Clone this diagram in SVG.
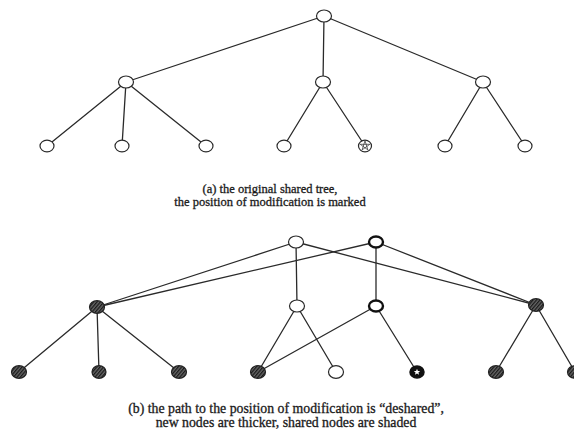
<svg xmlns="http://www.w3.org/2000/svg" width="574" height="431" viewBox="0 0 574 431">
<style>
.e{stroke:#2a2a2a;stroke-width:1.3;fill:none;stroke-linecap:round}
.n{fill:#fff;stroke:#2a2a2a;stroke-width:1.2}
.new{fill:#fff;stroke:#111;stroke-width:2.4}
.sh{fill:url(#hatch);stroke:#222;stroke-width:1.2}
.cap{font-family:"Liberation Serif","Times New Roman",serif;font-size:12.5px;fill:#1a1a1a;text-anchor:middle;stroke:#1a1a1a;stroke-width:0.3}
.capb{font-size:13.8px}
</style>
<defs>
<pattern id="hatch" patternUnits="userSpaceOnUse" width="2.6" height="2.6" patternTransform="rotate(40)">
<rect width="2.6" height="2.6" fill="#666"/>
<line x1="0.6" y1="0" x2="0.6" y2="2.6" stroke="#1a1a1a" stroke-width="1.3"/>
</pattern>
</defs>
<rect width="574" height="431" fill="#fff"/>

<g id="connectors">
<line class="e" x1="324" y1="16" x2="126" y2="82"/>
<line class="e" x1="324" y1="16" x2="323" y2="82"/>
<line class="e" x1="324" y1="16" x2="483" y2="82"/>
<line class="e" x1="126" y1="82" x2="47" y2="146"/>
<line class="e" x1="126" y1="82" x2="122" y2="146"/>
<line class="e" x1="126" y1="82" x2="206" y2="146"/>
<line class="e" x1="323" y1="82" x2="284" y2="146"/>
<line class="e" x1="323" y1="82" x2="365" y2="146"/>
<line class="e" x1="483" y1="82" x2="445" y2="146"/>
<line class="e" x1="483" y1="82" x2="525" y2="146"/>
<line class="e" x1="296" y1="242" x2="97" y2="307"/>
<line class="e" x1="296" y1="242" x2="297" y2="306"/>
<line class="e" x1="296" y1="242" x2="536" y2="305"/>
<line class="e" x1="376" y1="242" x2="97" y2="307"/>
<line class="e" x1="376" y1="242" x2="376" y2="306"/>
<line class="e" x1="376" y1="242" x2="536" y2="305"/>
<line class="e" x1="97" y1="307" x2="19" y2="372"/>
<line class="e" x1="97" y1="307" x2="99" y2="372"/>
<line class="e" x1="97" y1="307" x2="179" y2="372"/>
<line class="e" x1="297" y1="306" x2="258" y2="372"/>
<line class="e" x1="297" y1="306" x2="336" y2="372"/>
<line class="e" x1="376" y1="306" x2="258" y2="372"/>
<line class="e" x1="376" y1="306" x2="417" y2="372"/>
<line class="e" x1="536" y1="305" x2="496" y2="372"/>
<line class="e" x1="536" y1="305" x2="575" y2="372"/>
</g>

<g id="a-root"><ellipse class="n" cx="324" cy="16" rx="7.5" ry="6"/></g>
<g id="a-left"><ellipse class="n" cx="126" cy="82" rx="7.5" ry="6"/></g>
<g id="a-mid"><ellipse class="n" cx="323" cy="82" rx="7.5" ry="6"/></g>
<g id="a-right"><ellipse class="n" cx="483" cy="82" rx="7.5" ry="6"/></g>
<g id="a-leaf1"><ellipse class="n" cx="47" cy="146" rx="7" ry="5.8"/></g>
<g id="a-leaf2"><ellipse class="n" cx="122" cy="146" rx="7" ry="5.8"/></g>
<g id="a-leaf3"><ellipse class="n" cx="206" cy="146" rx="7" ry="5.8"/></g>
<g id="a-leaf4"><ellipse class="n" cx="284" cy="146" rx="7" ry="5.8"/></g>
<g id="a-leaf5-marked">
<ellipse class="n" cx="365" cy="146" rx="6.5" ry="5.8"/>
<path d="M365,140.8 L367.9,149.9 L360.2,144.3 L369.8,144.3 L362.1,149.9 Z" fill="none" stroke="#2a2a2a" stroke-width="0.7"/>
</g>
<g id="a-leaf6"><ellipse class="n" cx="445" cy="146" rx="7" ry="5.8"/></g>
<g id="a-leaf7"><ellipse class="n" cx="525" cy="146" rx="7" ry="5.8"/></g>

<g id="caption-a">
<text class="cap" x="270" y="193">(a) the original shared tree,</text>
<text class="cap" x="270" y="206">the position of modification is marked</text>
</g>

<g id="b-old-root"><ellipse class="n" cx="296" cy="242" rx="7.5" ry="6"/></g>
<g id="b-new-root"><ellipse class="new" cx="376" cy="242" rx="7" ry="5.5"/></g>
<g id="b-shared-left"><ellipse class="sh" cx="97" cy="307" rx="7.5" ry="6.3"/></g>
<g id="b-old-mid"><ellipse class="n" cx="297" cy="306" rx="7.5" ry="6"/></g>
<g id="b-new-mid"><ellipse class="new" cx="376" cy="306" rx="7" ry="5.5"/></g>
<g id="b-shared-right"><ellipse class="sh" cx="536" cy="305" rx="7.5" ry="6.3"/></g>
<g id="b-leaf1"><ellipse class="sh" cx="19" cy="372" rx="7.5" ry="6.3"/></g>
<g id="b-leaf2"><ellipse class="sh" cx="99" cy="372" rx="7" ry="6.3"/></g>
<g id="b-leaf3"><ellipse class="sh" cx="179" cy="372" rx="7.5" ry="6.3"/></g>
<g id="b-leaf4"><ellipse class="sh" cx="258" cy="372" rx="7.5" ry="6.3"/></g>
<g id="b-leaf5"><ellipse class="n" cx="336" cy="372" rx="7.5" ry="6.3"/></g>
<g id="b-leaf6-new">
<ellipse cx="417" cy="372" rx="7" ry="6" fill="#111" stroke="#111" stroke-width="1.5"/>
<path d="M417,368.8 L417.9,371 L420.2,371 L418.4,372.5 L419.1,374.8 L417,373.5 L414.9,374.8 L415.6,372.5 L413.8,371 L416.1,371 Z" fill="#fff"/>
</g>
<g id="b-leaf7"><ellipse class="sh" cx="496" cy="372" rx="7.5" ry="6.3"/></g>
<g id="b-leaf8"><ellipse class="sh" cx="575" cy="372" rx="7.5" ry="6.3"/></g>

<g id="caption-b">
<text class="cap capb" x="286" y="413">(b) the path to the position of modification is “deshared”,</text>
<text class="cap capb" x="286" y="427">new nodes are thicker, shared nodes are shaded</text>
</g>
</svg>
